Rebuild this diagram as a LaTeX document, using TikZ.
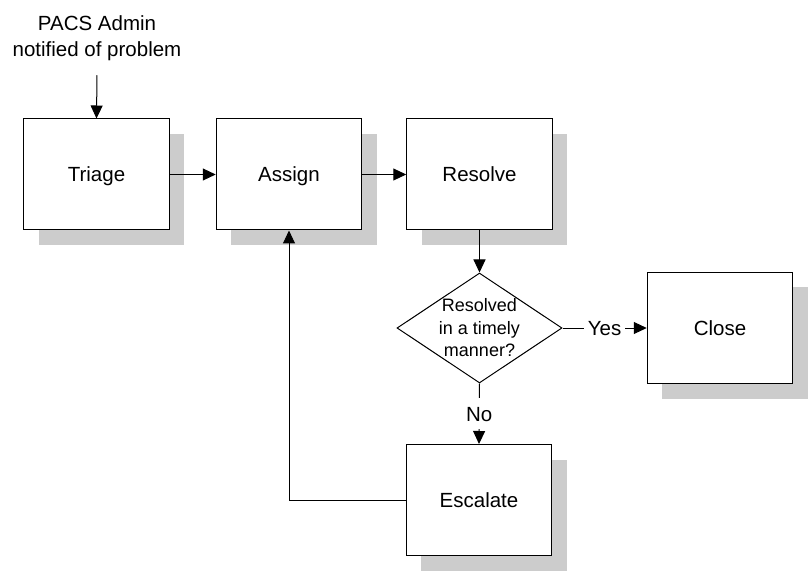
\documentclass[tikz,border=0pt]{standalone}
\usepackage{fontspec}
\setmainfont{Liberation Sans}
\usetikzlibrary{arrows.meta,shapes.geometric,shadows}
\definecolor{shadegray}{HTML}{CCCCCC}
\begin{document}
\begin{tikzpicture}[x=1pt,y=-1pt,
  every node/.style={font=\fontsize{20.5}{26}\selectfont},
  stepbox/.style={rectangle,draw=black,line width=1pt,fill=white,
    minimum width=145.5pt,minimum height=111pt,inner sep=0pt,
    text height=14.7pt,text depth=0pt,
    drop shadow={shadow xshift=15pt,shadow yshift=-15pt,fill=shadegray,opacity=1}},
  decision/.style={diamond,draw=black,line width=1pt,fill=white,
    minimum width=165pt,minimum height=110pt,inner sep=0pt},
  flow/.style={line width=1pt,-{Triangle[length=13pt,width=12pt]}},
  tag/.style={fill=white,inner xsep=4pt,inner ysep=8pt,text height=14.7pt,text depth=0pt}]
  \useasboundingbox (0,0) rectangle (809,572);

  % start note
  \node[align=center,inner xsep=6pt,inner ysep=14pt] (start) at (97,38.5) {PACS Admin\\notified of problem};

  % process steps
  \node[stepbox] (triage)   at (96.5,174.5) {Triage};
  \node[stepbox] (assign)   at (289,174.5)  {Assign};
  \node[stepbox] (resolve)  at (479.5,174.5) {Resolve};
  \node[decision,label={[align=center,font=\fontsize{18}{22.5}\selectfont]center:Resolved\\in a timely\\manner?}]
        (check) at (479.5,328) {};
  \node[stepbox] (close)    at (720,328)    {Close};
  \node[stepbox] (escalate) at (479,500)    {Escalate};

  % connectors
  \draw[flow] (start.south) -- (triage.north);
  \draw[flow] (triage) -- (assign);
  \draw[flow] (assign) -- (resolve);
  \draw[flow] (resolve) -- (check);
  \draw[flow] (check.east) -- node[tag] {Yes} (close.west);
  \draw[flow] (check.south) -- node[tag] {No} (escalate.north);
  \draw[flow] (escalate.west) -| (assign.south);
\end{tikzpicture}
\end{document}
